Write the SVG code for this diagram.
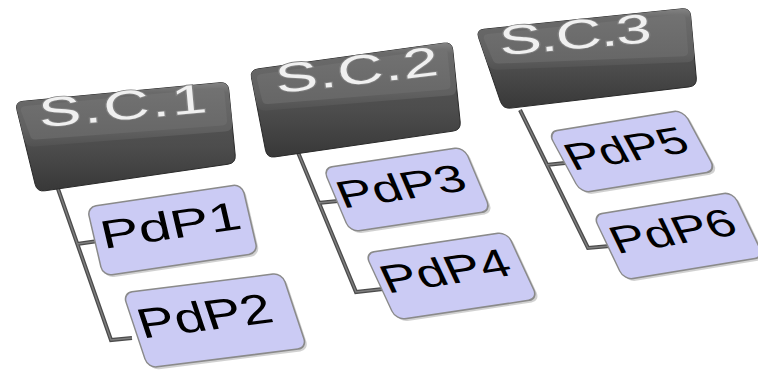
<svg xmlns="http://www.w3.org/2000/svg" width="758" height="371" viewBox="0 0 758 371">
  <defs>
    <linearGradient id="keyFront" x1="0" y1="0" x2="0" y2="1">
      <stop offset="0" stop-color="#5c5c5c"/>
      <stop offset="0.6" stop-color="#4c4c4c"/>
      <stop offset="1" stop-color="#383838"/>
    </linearGradient>
    <linearGradient id="keyTop" x1="0" y1="0" x2="0" y2="1">
      <stop offset="0" stop-color="#828282"/>
      <stop offset="0.15" stop-color="#6a6a6a"/>
      <stop offset="0.75" stop-color="#606060"/>
      <stop offset="1" stop-color="#525252"/>
    </linearGradient>
    <linearGradient id="keyFace" x1="0" y1="0" x2="0" y2="1">
      <stop offset="0" stop-color="#727272"/>
      <stop offset="1" stop-color="#666666"/>
    </linearGradient>
  </defs>
  <style>
    .key-body{fill:url(#keyFront);stroke:#2a2a2a;stroke-width:1}
    .key-top{fill:url(#keyTop)}
    .key-face{fill:url(#keyFace)}
    .key-label{font-family:"Liberation Sans",Arial,sans-serif;font-size:41px;fill:#f0f0f0;stroke:#808080;stroke-width:1.8;paint-order:stroke fill}
    .card{fill:#cbcbf4;stroke:#8a8a8a;stroke-width:1.5}
    .card-shadow{fill:#9a9a9a;opacity:0.45}
    .card-label{font-family:"Liberation Sans",Arial,sans-serif;fill:#000000}
    .wire-outer{fill:none;stroke:#4c4c4c;stroke-width:4}
    .wire-inner{fill:none;stroke:#7e7e7e;stroke-width:1.4}
  </style>

  <!-- links from each key down to its cards -->
  <g id="connectors">
    <path class="wire-outer" d="M57,186 L111,340 L132,338 M77,244 L98,241"/>
    <path class="wire-inner" d="M57,186 L111,340 L132,338 M77,244 L98,241"/>
    <path class="wire-outer" d="M297,150 L356,292 L383,289 M318,203 L338,201"/>
    <path class="wire-inner" d="M297,150 L356,292 L383,289 M318,203 L338,201"/>
    <path class="wire-outer" d="M520,110 L588,248 L610,246 M546,165 L565,163"/>
    <path class="wire-inner" d="M520,110 L588,248 L610,246 M546,165 L565,163"/>
  </g>

  <!-- keys -->
  <g id="sc1">
    <path class="key-body" d="M23,101.3 L220,82.7 Q228,82 228.8,90 L235.2,155 Q236,163 228.1,164.2 L44.9,190.8 Q37,192 35.1,184.2 L16.9,109.8 Q15,102 23,101.3 Z"/>
    <path class="key-top" d="M23,101.3 L220,82.7 Q228,82 228.8,90 L232.2,123 Q233,131 225,131.6 L34,146.4 Q26,147 24.1,139.2 L16.9,109.8 Q15,102 23,101.3 Z"/>
    <path class="key-face" d="M26,106 L219,88 Q224,88 224.5,93 L227,120 Q227.5,125 222,125.5 L36,139.5 Q31,140 30,135 L21,111 Q20,106.5 26,106 Z"/>
    <text class="key-label" transform="translate(40.1,127.2) rotate(-5.2) scale(1.55,1)" textLength="108.7" lengthAdjust="spacing">S.C.1</text>
  </g>
  <g id="sc2">
    <path class="key-body" d="M257.9,68.9 L444.1,43.1 Q452,42 452.8,50 L460.2,122 Q461,130 453.1,131.1 L274.9,156.9 Q267,158 265.5,150.2 L251.5,77.8 Q250,70 257.9,68.9 Z"/>
    <path class="key-top" d="M257.9,68.9 L444.1,43.1 Q452,42 452.8,50 L456.2,87 Q457,95 449,95.6 L266,110.4 Q258,111 256.5,103.2 L251.5,77.8 Q250,70 257.9,68.9 Z"/>
    <path class="key-face" d="M262,74 L442,48.5 Q447,48 447.5,53 L450.5,84 Q451,89 446,89.5 L268,104 Q263,104.5 262,99.5 L257,79 Q256.5,74.5 262,74 Z"/>
    <text class="key-label" transform="translate(277.1,93.3) rotate(-6.5) scale(1.55,1)" textLength="105.5" lengthAdjust="spacing">S.C.2</text>
  </g>
  <g id="sc3">
    <path class="key-body" d="M484,29.2 L682,8.8 Q690,8 690.7,16 L696.3,78 Q697,86 689.1,86.9 L510.9,108.1 Q503,109 500.4,101.4 L478.6,37.6 Q476,30 484,29.2 Z"/>
    <path class="key-top" d="M484,29.2 L682,8.8 Q690,8 690.7,16 L694.1,54 Q694.8,62 686.8,62.3 L497.7,69.7 Q489.7,70 487.1,62.4 L478.6,37.6 Q476,30 484,29.2 Z"/>
    <path class="key-face" d="M488,34 L680,14.5 Q685,14 685.5,19 L688,51 Q688.5,56 683.5,56.2 L499,63.5 Q494,63.7 492.5,59 L484,39 Q483,34.5 488,34 Z"/>
    <text class="key-label" font-size="40" transform="translate(500.4,55.2) rotate(-5) scale(1.55,1)" textLength="98.5" lengthAdjust="spacing">S.C.3</text>
  </g>

  <!-- cards, each drawn in its own slanted frame -->
  <g id="pdp1" transform="matrix(1,-0.148,0.232,1,87,207)">
    <rect class="card-shadow" x="1.5" y="2.5" width="155" height="69" rx="9"/>
    <rect class="card" width="155" height="69" rx="9"/>
    <text class="card-label" font-size="39" x="6.7" y="43" textLength="139.8" lengthAdjust="spacingAndGlyphs">PdP1</text>
  </g>
  <g id="pdp2" transform="matrix(1,-0.126,0.333,1,123,293)">
    <rect class="card-shadow" x="1.5" y="2.5" width="159" height="75" rx="9"/>
    <rect class="card" width="159" height="75" rx="9"/>
    <text class="card-label" font-size="41" x="4.4" y="46" textLength="133.2" lengthAdjust="spacingAndGlyphs">PdP2</text>
  </g>
  <g id="pdp3" transform="matrix(1,-0.149,0.422,1,323,168)">
    <rect class="card-shadow" x="1.5" y="2.5" width="141" height="64" rx="9"/>
    <rect class="card" width="141" height="64" rx="9"/>
    <text class="card-label" font-size="37" x="2.7" y="41" textLength="126.6" lengthAdjust="spacingAndGlyphs">PdP3</text>
  </g>
  <g id="pdp4" transform="matrix(1,-0.148,0.463,1,365,253)">
    <rect class="card-shadow" x="1.5" y="2.5" width="142" height="67" rx="9"/>
    <rect class="card" width="142" height="67" rx="9"/>
    <text class="card-label" font-size="38" x="3.9" y="41" textLength="126.7" lengthAdjust="spacingAndGlyphs">PdP4</text>
  </g>
  <g id="pdp5" transform="matrix(1,-0.163,0.541,1,548,132)">
    <rect class="card-shadow" x="1.5" y="2.5" width="135" height="61" rx="9"/>
    <rect class="card" width="135" height="61" rx="9"/>
    <text class="card-label" font-size="36" x="3.9" y="39.5" textLength="119.2" lengthAdjust="spacingAndGlyphs">PdP5</text>
  </g>
  <g id="pdp6" transform="matrix(1,-0.164,0.477,1,593,215)">
    <rect class="card-shadow" x="1.5" y="2.5" width="140" height="65" rx="9"/>
    <rect class="card" width="140" height="65" rx="9"/>
    <text class="card-label" font-size="37" x="5.3" y="40" textLength="122.8" lengthAdjust="spacingAndGlyphs">PdP6</text>
  </g>
</svg>
